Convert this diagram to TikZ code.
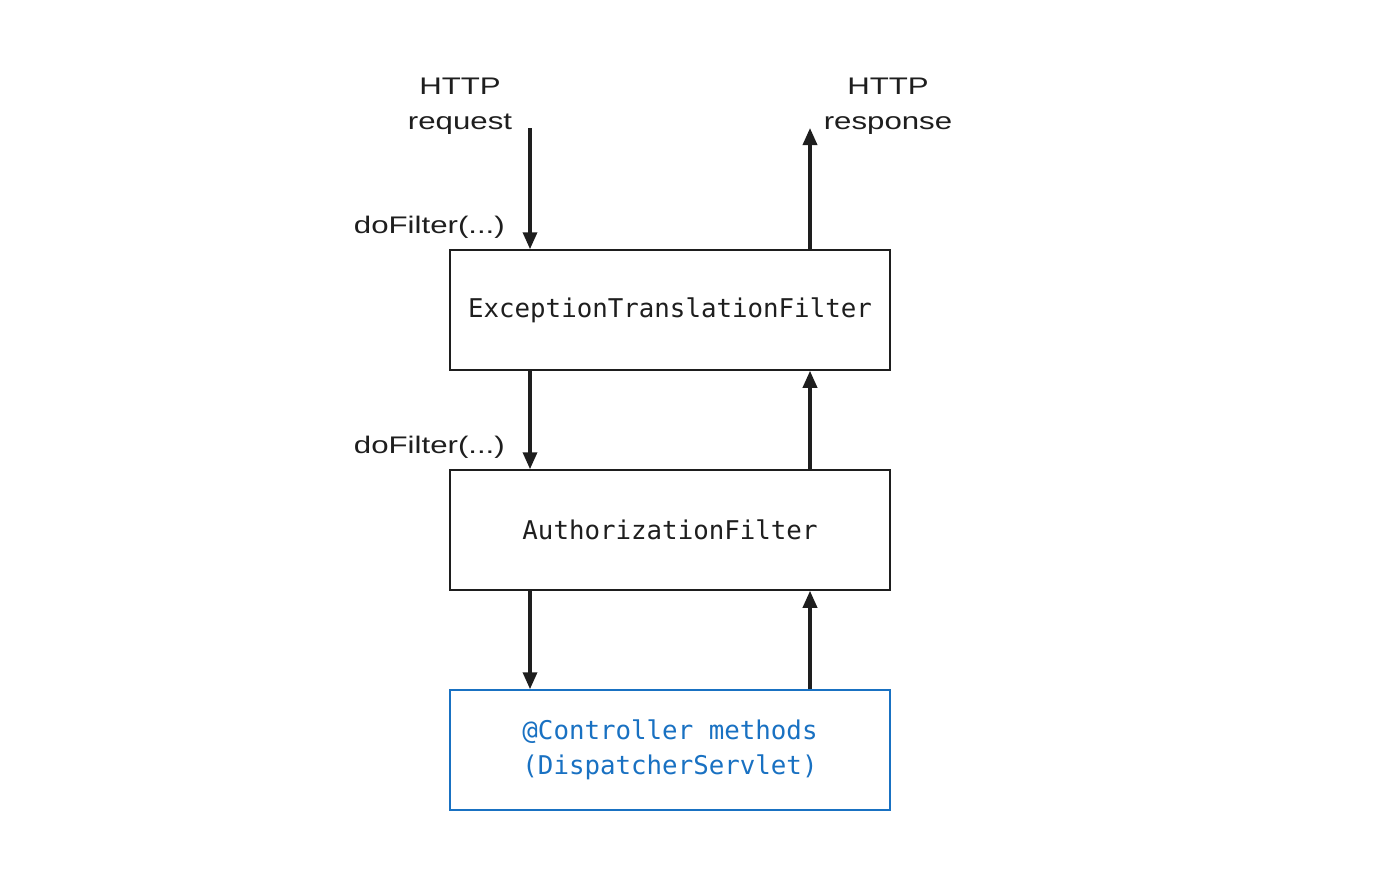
\documentclass[tikz,border=0pt]{standalone}
\usepackage{fontspec}
\setmonofont{DejaVu Sans Mono}
\newfontfamily\handfont[FakeStretch=1.3]{Liberation Sans}
\usetikzlibrary{arrows.meta}
\definecolor{ink}{HTML}{1E1E1E}
\definecolor{bluebox}{HTML}{1971C2}
\tikzset{
  filterbox/.style={draw=ink, line width=1.5pt, minimum width=440pt, minimum height=120pt, inner sep=0pt,
    font=\ttfamily\fontsize{25.8}{35}\selectfont, text=ink, align=center},
  ctrlbox/.style={filterbox, draw=bluebox, text=bluebox},
  flow/.style={draw=ink, line width=3.5pt, -{Triangle[length=17pt,width=14pt]}},
  hand/.style={font=\handfont\fontsize{24}{35}\selectfont, text=ink, align=center, inner sep=0pt}
}
\begin{document}
\begin{tikzpicture}[x=1pt,y=-1pt]
\useasboundingbox (0,0) rectangle (1380,880);
\node[filterbox] (etf) at (670,310) {ExceptionTranslationFilter};
\node[filterbox] (az) at (670,530) {AuthorizationFilter};
\node[ctrlbox] (ctl) at (670,750) {@Controller methods\\(DispatcherServlet)};
\coordinate (req) at (530,128);
\coordinate (resp) at (810,128);
\node[hand] (reqlbl) at (460,106) {HTTP\\request};
\node[hand] (resplbl) at (888,106) {HTTP\\response};
\node[hand, anchor=east] (df1) at (505,227) {doFilter(...)};
\node[hand, anchor=east] (df2) at (505,447) {doFilter(...)};
\draw[flow] (req) -- (etf.north -| req);
\draw[flow] (etf.south -| req) -- (az.north -| req);
\draw[flow] (az.south -| req) -- (ctl.north -| req);
\draw[flow] (ctl.north -| resp) -- (az.south -| resp);
\draw[flow] (az.north -| resp) -- (etf.south -| resp);
\draw[flow] (etf.north -| resp) -- (resp);
\end{tikzpicture}
\end{document}
